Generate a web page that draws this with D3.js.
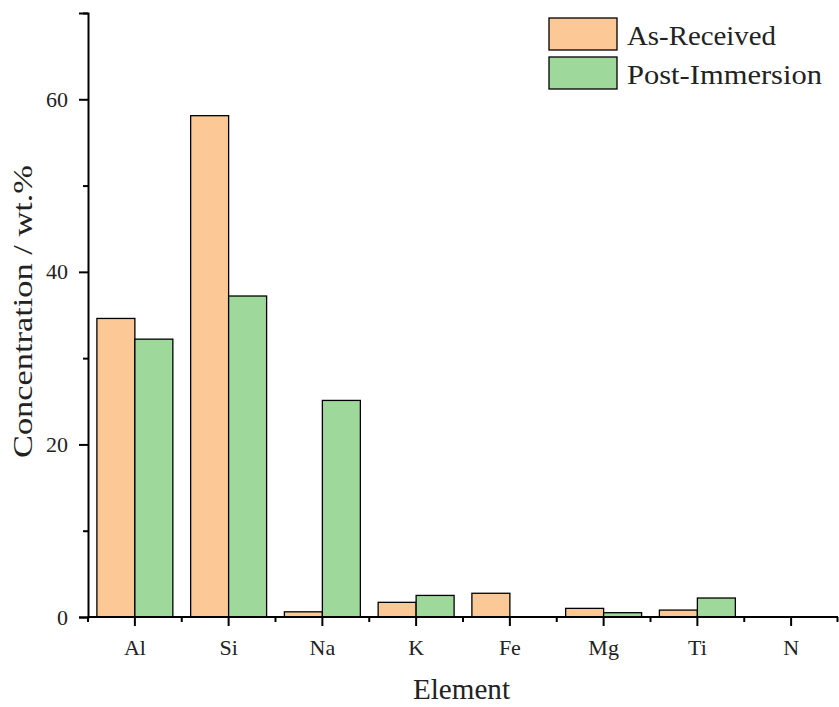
<!DOCTYPE html>
<html>
<head>
<meta charset="utf-8">
<script src="https://cdn.jsdelivr.net/npm/d3@7"></script>
<style>
  body { margin: 0; background: #fff; }
  svg { display: block; font-family: "Liberation Serif", "DejaVu Serif", serif; }
</style>
</head>
<body>
<svg id="chart" width="839" height="707"></svg>
<script>
"use strict";

// DATA
const elements = ["Al", "Si", "Na", "K", "Fe", "Mg", "Ti", "N"];
const seriesNames = ["As-Received", "Post-Immersion"];
const asReceived = [34.6, 58.1, 0.6, 1.7, 2.75, 1.0, 0.8, 0];
const postImmersion = [32.2, 37.2, 25.1, 2.5, 0, 0.5, 2.2, 0];
const yTicks = [0, 20, 40, 60];
const yMinorTicks = [10, 30, 50, 70];

const seriesColors = ["#fcc896", "#9fd89b"];
const legendWidths = [149, 195];

const svg = d3.select("#chart");
const margin = { left: 88, right: 1, top: 13 };
const width = 839;
const plotBottom = 617;

const x = d3.scaleBand()
	.domain(elements)
	.range([margin.left, width - margin.right])
	.paddingInner(0)
	.paddingOuter(0);

const xInner = d3.scaleBand()
	.domain(seriesNames)
	.range([0, x.bandwidth()])
	.paddingOuter(0.234)
	.paddingInner(0);

const y = d3.scaleLinear().domain([0, 70]).range([plotBottom, margin.top]);

const rows = elements.map((el, i) => ({
	el: el,
	values: [
		{ name: seriesNames[0], v: asReceived[i], c: seriesColors[0] },
		{ name: seriesNames[1], v: postImmersion[i], c: seriesColors[1] },
	],
}));

// Bars
const groups = svg.append("g")
	.selectAll("g")
	.data(rows)
	.join("g")
	.attr("transform", (d) => "translate(" + x(d.el) + ",0)");

groups.selectAll("rect")
	.data((d) => d.values.filter((v) => v.v > 0))
	.join("rect")
	.attr("x", (d) => xInner(d.name))
	.attr("y", (d) => y(d.v))
	.attr("width", xInner.bandwidth())
	.attr("height", (d) => plotBottom - y(d.v))
	.attr("fill", (d) => d.c)
	.attr("stroke", "#000")
	.attr("stroke-width", 1.3);

// Y axis
const yAxis = svg.append("g")
	.attr("transform", "translate(" + margin.left + ",0)")
	.call(d3.axisLeft(y).tickValues(yTicks).tickSize(9).tickPadding(11));
svg.append("g")
	.attr("transform", "translate(" + margin.left + ",0)")
	.call(d3.axisLeft(y).tickValues(yMinorTicks).tickSize(5).tickFormat(""))
	.select(".domain").remove();

// X axis
const xAxis = svg.append("g")
	.attr("transform", "translate(0," + plotBottom + ")")
	.call(d3.axisBottom(x).tickSize(9).tickPadding(13));
const boundaries = elements.map((el) => x(el)).concat([width - margin.right - 0.5]);
svg.append("g")
	.selectAll("line")
	.data(boundaries)
	.join("line")
	.attr("x1", (d) => d).attr("x2", (d) => d)
	.attr("y1", plotBottom).attr("y2", plotBottom + 5)
	.attr("stroke", "#000").attr("stroke-width", 2);

[yAxis, xAxis].forEach((a) => {
	a.select(".domain").attr("stroke-width", 2);
	a.selectAll(".tick text")
		.attr("font-family", "Liberation Serif, serif")
		.attr("font-size", 22)
		.attr("fill", "#222");
});
svg.selectAll(".tick line").attr("stroke-width", 2);
xAxis.select(".domain").attr("d", "M" + margin.left + ",0H" + (width - margin.right));

// Axis titles
svg.append("text")
	.attr("x", 413)
	.attr("y", 699)
	.attr("font-size", 30)
	.attr("textLength", 97)
	.attr("lengthAdjust", "spacingAndGlyphs")
	.attr("fill", "#222")
	.text("Element");

svg.append("text")
	.attr("transform", "translate(32,458) rotate(-90)")
	.attr("font-size", 28)
	.attr("textLength", 293)
	.attr("lengthAdjust", "spacingAndGlyphs")
	.attr("fill", "#222")
	.text("Concentration / wt.%");

// Legend
const legend = svg.append("g")
	.selectAll("g")
	.data(seriesNames)
	.join("g")
	.attr("transform", (d, i) => "translate(549," + (18 + i * 39) + ")");
legend.append("rect")
	.attr("width", 68).attr("height", 32)
	.attr("fill", (d, i) => seriesColors[i])
	.attr("stroke", "#000").attr("stroke-width", 1.3);
legend.append("text")
	.attr("x", 78).attr("y", 27)
	.attr("font-size", 28)
	.attr("textLength", (d, i) => legendWidths[i])
	.attr("lengthAdjust", "spacingAndGlyphs")
	.attr("fill", "#222")
	.text((d) => d);
</script>
</body>
</html>
